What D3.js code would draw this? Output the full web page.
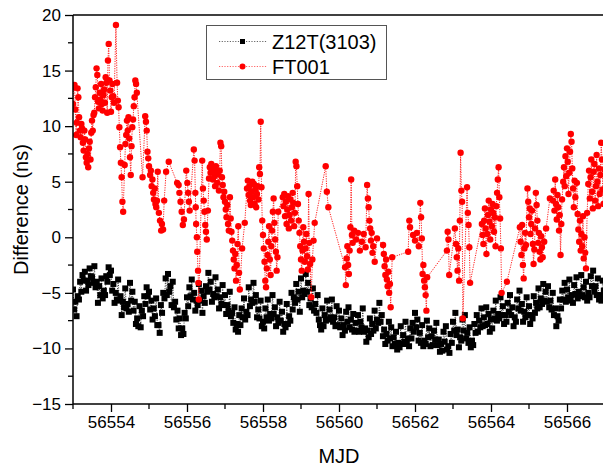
<!DOCTYPE html>
<html>
<head>
<meta charset="utf-8">
<script src="https://cdn.jsdelivr.net/npm/d3@7/dist/d3.min.js"></script>
<style>
  body { margin: 0; background: #fff; }
  text { font-family: "Liberation Sans", Arial, sans-serif; fill: #000; }
</style>
</head>
<body>
<div id="chart"></div>
<script>
// axis ticks
const xMajorTicks = [56554, 56556, 56558, 56560, 56562, 56564, 56566];
const xMinorTicks = [56553, 56555, 56557, 56559, 56561, 56563, 56565, 56567];
const yMajorTicks = [-15, -10, -5, 0, 5, 10, 15, 20];
const yMinorTicks = [-12.5, -7.5, -2.5, 2.5, 7.5, 12.5, 17.5];

const seriesNames = ["Z12T(3103)", "FT001"];

// Z12T(3103): regular sampling, 16 points per half day
const z12tStart = 56553.0;
const z12tStep = 0.03125;
const z12tValues = [
  -4.7,-6.5,-5.8,-7.1,-5.3,-5.6,-4.0,-4.9,-3.4,-3.9,-3.1,-4.8,-3.9,-4.3,-2.8,-3.5,
  -3.6,-4.1,-2.6,-4.5,-4.0,-5.9,-4.4,-5.2,-3.7,-5.5,-4.8,-5.2,-3.5,-4.0,-2.7,-3.4,
  -3.0,-4.8,-4.2,-5.9,-5.0,-5.6,-3.8,-5.7,-5.3,-7.0,-5.8,-6.3,-4.6,-6.4,-6.0,-6.7,
  -4.1,-5.7,-4.9,-6.6,-5.8,-7.8,-7.3,-8.0,-6.2,-8.1,-6.6,-7.1,-5.3,-6.0,-4.5,-5.3,
  -4.9,-6.5,-5.7,-7.4,-6.4,-7.1,-5.5,-7.9,-7.9,-8.6,-6.1,-6.8,-5.0,-5.5,-3.7,-5.2,
  -3.3,-4.9,-4.4,-6.1,-4.0,-6.3,-5.8,-7.4,-6.6,-8.2,-7.3,-8.8,-8.2,-8.7,-6.8,-7.3,
  -5.4,-6.2,-4.5,-5.3,-3.8,-5.6,-5.0,-6.6,-5.7,-6.1,-4.2,-5.7,-4.8,-6.8,-5.3,-5.9,
  -4.4,-4.9,-3.2,-4.7,-4.0,-5.8,-5.1,-5.4,-3.6,-5.3,-4.7,-6.4,-5.4,-6.0,-4.3,-6.1,
  -5.2,-6.9,-6.1,-6.6,-4.9,-7.1,-6.8,-7.7,-6.3,-8.3,-7.8,-8.5,-7.0,-7.9,-6.4,-7.2,
  -5.5,-7.4,-6.7,-7.0,-4.5,-6.2,-5.6,-5.9,-4.1,-5.8,-5.2,-7.2,-6.5,-7.3,-5.7,-8.0,
  -7.6,-8.2,-6.4,-7.2,-5.6,-7.5,-6.9,-7.3,-5.2,-6.9,-6.3,-8.0,-7.2,-7.7,-5.8,-7.5,
  -6.7,-8.5,-7.8,-8.1,-6.0,-7.8,-7.1,-7.5,-5.0,-6.5,-5.4,-5.9,-4.2,-5.6,-4.9,-6.7,
  -3.7,-5.4,-4.8,-5.1,-3.3,-4.9,-4.1,-6.1,-5.5,-6.3,-4.6,-6.6,-6.0,-6.8,-5.2,-7.4,
  -7.9,-8.3,-6.4,-8.0,-7.0,-7.5,-5.7,-7.4,-6.5,-7.2,-5.6,-7.6,-7.2,-8.0,-6.2,-7.9,
  -6.6,-8.1,-7.3,-8.8,-7.9,-8.4,-6.7,-7.6,-6.3,-8.1,-7.4,-8.3,-6.9,-8.5,-7.7,-8.4,
  -7.0,-8.5,-7.6,-8.1,-6.4,-8.5,-8.2,-9.4,-8.4,-9.0,-7.3,-8.7,-7.8,-8.4,-6.6,-8.2,
  -7.4,-7.7,-5.9,-7.6,-7.0,-8.9,-8.3,-9.6,-8.7,-9.3,-7.6,-9.1,-8.1,-9.8,-9.0,-9.6,
  -8.5,-10.1,-9.5,-9.9,-8.0,-9.6,-8.8,-9.4,-7.6,-9.6,-9.1,-9.8,-8.2,-9.1,-7.7,-8.5,
  -6.8,-8.1,-7.4,-9.3,-8.6,-9.5,-7.9,-9.8,-9.3,-9.6,-7.5,-9.0,-8.2,-9.8,-8.9,-9.7,
  -8.4,-9.2,-7.7,-9.7,-9.2,-10.3,-9.6,-10.2,-8.5,-9.4,-8.0,-10.1,-9.8,-10.4,-8.7,-9.5,
  -7.6,-8.4,-6.8,-8.8,-8.3,-9.9,-9.0,-9.3,-7.4,-8.4,-7.0,-9.1,-8.6,-9.5,-8.1,-9.9,
  -9.3,-9.7,-7.8,-8.6,-7.0,-8.5,-7.5,-8.1,-6.4,-8.0,-7.2,-7.9,-6.3,-7.8,-6.9,-8.5,
  -7.4,-8.2,-6.6,-7.3,-5.7,-7.5,-6.9,-7.3,-5.4,-7.0,-6.2,-7.8,-7.0,-7.6,-5.9,-6.7,
  -5.2,-7.0,-6.3,-8.0,-7.2,-7.6,-5.6,-6.4,-4.8,-6.6,-6.0,-7.6,-6.7,-7.2,-5.4,-7.0,
  -6.2,-7.8,-7.0,-7.3,-5.3,-6.8,-5.9,-6.4,-4.6,-6.3,-5.5,-6.0,-4.2,-5.7,-4.9,-5.8,
  -4.4,-6.3,-5.7,-6.5,-5.0,-7.0,-6.4,-8.0,-7.1,-7.5,-5.6,-6.4,-4.8,-5.6,-4.1,-5.8,
  -4.7,-5.4,-3.8,-5.7,-5.2,-5.9,-4.3,-5.1,-3.6,-5.5,-4.9,-5.3,-3.4,-5.2,-4.5,-5.4,
  -4.0,-5.7,-5.0,-5.4,-3.5,-4.4,-3.0,-4.9,-4.4,-5.2,-3.7,-5.6,-5.2,-5.7,-3.9,-4.8
];

// FT001: [MJD, difference ns], irregular with gaps
const ft001 = [
  [56553.00,12.0],[56553.02,13.5],[56553.04,13.7],[56553.06,11.5],[56553.08,9.2],[56553.10,10.3],
  [56553.12,13.4],[56553.14,12.6],[56553.16,10.8],[56553.18,9.6],[56553.20,9.0],[56553.22,10.2],
  [56553.24,9.8],[56553.26,8.5],[56553.28,7.8],[56553.30,9.6],[56553.32,8.8],[56553.34,7.2],
  [56553.36,6.7],[56553.38,7.5],[56553.40,6.3],[56553.42,8.0],[56553.44,8.6],[56553.46,7.0],
  [56553.48,9.4],[56553.50,10.5],[56553.52,9.6],[56553.54,11.0],
  [56553.56,11.2],[56553.58,12.6],[56553.60,13.5],[56553.62,15.2],[56553.64,14.6],[56553.66,12.2],
  [56553.68,11.6],[56553.70,13.0],[56553.72,12.4],[56553.74,13.8],[56553.76,12.0],[56553.78,11.4],
  [56553.80,12.8],[56553.82,13.3],[56553.84,12.1],[56553.86,14.4],[56553.88,13.9],[56553.90,11.2],
  [56553.92,15.9],[56553.94,17.4],[56553.96,14.1],[56553.98,13.2],[56554.00,11.3],[56554.02,12.6],
  [56554.04,13.8],[56554.06,12.7],[56554.08,12.1],[56554.13,19.1],[56554.16,13.9],[56554.18,12.3],
  [56554.20,11.7],[56554.22,9.9],[56554.24,8.1],[56554.26,6.7],[56554.28,5.4],[56554.30,3.2],
  [56554.32,2.3],
  [56554.36,6.5],[56554.38,8.4],[56554.40,9.2],[56554.42,10.5],[56554.44,9.6],[56554.46,10.8],
  [56554.48,8.9],[56554.50,7.2],[56554.52,5.6],[56554.54,8.2],[56554.56,9.9],[56554.58,10.6],
  [56554.60,11.8],[56554.62,12.6],[56554.64,14.1],[56554.66,13.8],[56554.68,13.0],[56554.83,5.4],
  [56554.90,10.9],[56554.92,10.4],[56554.94,9.6],[56554.96,7.7],[56554.98,7.1],
  [56555.00,6.4],[56555.03,5.6],[56555.05,6.0],[56555.07,4.6],[56555.09,5.2],[56555.11,4.0],
  [56555.13,3.4],[56555.15,4.4],[56555.17,3.0],[56555.19,2.7],[56555.21,3.3],[56555.23,5.9],
  [56555.26,2.2],[56555.29,1.5],[56555.32,0.6],[56555.34,1.2],[56555.37,0.7],[56555.40,3.3],
  [56555.45,5.9],[56555.52,6.8],[56555.74,4.9],[56555.78,4.7],[56555.80,4.0],[56555.83,3.2],
  [56555.86,2.3],[56555.89,1.1],[56555.92,1.6],[56555.98,6.0],[56556.01,4.9],[56556.03,4.0],
  [56556.05,3.2],[56556.07,2.4],
  [56556.18,7.9],[56556.20,6.9],[56556.22,4.0],[56556.23,2.7],[56556.24,1.2],[56556.26,0.0],
  [56556.27,-1.3],[56556.29,-3.0],[56556.30,-4.1],[56556.31,-5.6],
  [56556.40,6.9],[56556.42,4.4],[56556.44,3.3],[56556.46,2.3],[56556.48,1.1],[56556.50,0.5],
  [56556.52,-0.2],[56556.55,2.4],[56556.58,5.3],[56556.60,6.3],[56556.62,5.8],[56556.64,6.6],
  [56556.66,6.0],[56556.68,5.2],[56556.70,6.2],[56556.72,5.5],[56556.74,4.6],[56556.76,6.4],
  [56556.78,5.9],[56556.80,4.9],[56556.82,5.7],[56556.84,4.2],[56556.86,6.0],[56556.88,8.5],
  [56556.90,8.2],[56556.92,5.4],[56556.94,4.7],[56556.96,3.6],[56556.98,4.1],[56557.00,3.2],
  [56557.02,2.5],[56557.04,1.8],[56557.06,2.9],[56557.08,1.2],[56557.10,0.6],[56557.13,3.6],
  [56557.15,1.7],[56557.17,0.5],[56557.19,-0.3],[56557.21,-1.2],[56557.23,-2.0],[56557.25,-2.8],
  [56557.27,-1.5],[56557.29,-3.9],[56557.31,-2.5],[56557.33,-0.6],[56557.35,1.0],[56557.37,-3.2],
  [56557.39,-4.7],[56557.45,-1.0],[56557.52,1.3],
  [56557.58,4.4],[56557.60,5.1],[56557.62,3.8],[56557.64,4.6],[56557.66,3.3],[56557.68,2.9],
  [56557.70,4.1],[56557.72,5.0],[56557.74,3.6],[56557.76,4.8],[56557.78,3.0],[56557.80,4.3],
  [56557.82,2.7],[56557.84,3.9],[56557.86,4.6],[56557.88,3.4],[56557.90,6.3],[56557.92,5.7],
  [56557.94,10.4],[56557.96,4.5],[56557.98,1.5],[56558.00,0.2],[56558.02,-1.0],[56558.04,-2.2],
  [56558.06,-3.9],[56558.08,-4.5],[56558.10,-2.8],[56558.12,-1.6],[56558.14,-0.4],[56558.16,1.0],
  [56558.18,-2.0],[56558.20,-3.4],[56558.22,-0.8],[56558.24,0.6],[56558.26,2.3],[56558.28,3.5],
  [56558.30,1.3],[56558.32,-0.2],[56558.34,-1.3],[56558.36,-3.0],[56558.38,-1.8],[56558.40,2.3],
  [56558.52,3.6],[56558.54,2.8],[56558.56,3.9],[56558.58,1.9],[56558.60,3.2],[56558.62,1.2],
  [56558.64,2.5],[56558.66,3.7],[56558.68,0.8],[56558.70,2.0],[56558.72,3.4],[56558.74,1.5],
  [56558.76,2.7],[56558.78,4.0],[56558.80,3.1],[56558.82,1.0],[56558.84,2.2],[56558.86,6.8],
  [56558.88,6.4],[56558.90,4.6],[56558.92,3.0],[56558.94,1.5],[56558.96,0.4],[56558.98,-0.8],
  [56559.00,-2.0],[56559.02,-3.0],[56559.04,-1.2],[56559.06,0.9],[56559.08,-0.4],[56559.10,-2.2],
  [56559.12,-1.0],[56559.14,0.3],[56559.16,-1.7],[56559.18,-2.9],[56559.20,3.9],[56559.22,-0.5],
  [56559.24,-2.4],[56559.27,-5.4],[56559.30,-2.0],[56559.33,-0.3],[56559.36,1.3],
  [56559.65,6.4],[56559.68,4.1],[56559.72,2.7],
  [56560.16,-2.7],[56560.18,-4.3],[56560.20,-1.9],[56560.22,-0.8],[56560.24,-2.5],[56560.26,-3.3],
  [56560.28,-1.2],[56560.30,0.9],[56560.32,5.2],[56560.34,0.2],[56560.36,-0.5],[56560.40,0.6],
  [56560.45,-0.2],[56560.50,0.4],[56560.55,-1.2],[56560.60,-0.4],[56560.65,0.3],[56560.70,-0.9],
  [56560.74,4.7],[56560.76,3.5],[56560.78,2.7],[56560.80,1.5],[56560.82,0.8],[56560.84,-0.3],
  [56560.86,0.4],[56560.88,-1.4],[56560.90,-0.8],[56560.94,-2.2],[56561.00,-0.1],
  [56561.16,-0.7],[56561.18,-1.5],[56561.20,-2.6],[56561.22,-3.4],[56561.24,-2.0],[56561.26,-3.8],
  [56561.28,-4.4],[56561.30,-3.1],[56561.32,-5.0],[56561.34,-4.2],[56561.36,-6.3],[56561.40,-1.8],
  [56561.82,-1.3],[56561.85,1.5],[56561.87,0.9],[56561.95,0.2],[56562.00,-0.3],[56562.05,0.4],
  [56562.10,-0.8],[56562.14,3.1],[56562.16,1.8],[56562.18,-0.1],[56562.20,-3.3],[56562.22,-2.5],
  [56562.24,-3.9],[56562.26,-4.5],[56562.28,-5.2],[56562.30,-6.6],[56562.32,-3.6],
  [56562.84,-1.2],[56562.86,0.5],[56562.88,-0.2],[56562.90,-3.4],
  [56563.05,0.8],[56563.08,-0.6],[56563.10,-1.8],[56563.12,-3.0],[56563.14,-1.0],[56563.16,-3.9],
  [56563.18,1.5],[56563.20,7.6],[56563.22,4.2],[56563.24,3.2],[56563.26,-7.3],
  [56563.37,4.5],[56563.39,2.2],[56563.41,1.1],[56563.43,-0.9],[56563.45,-4.1],
  [56563.76,1.2],[56563.78,0.2],[56563.80,-0.6],[56563.82,1.5],[56563.84,2.6],[56563.86,0.8],
  [56563.88,-1.5],[56563.90,0.3],[56563.92,2.0],[56563.94,3.3],[56563.96,1.4],[56563.98,-0.2],
  [56564.00,2.5],[56564.02,1.0],[56564.04,3.0],[56564.06,2.2],[56564.08,0.5],[56564.10,1.8],
  [56564.12,-0.8],[56564.14,2.8],[56564.16,4.0],[56564.18,5.2],[56564.20,6.3],[56564.22,3.6],
  [56564.24,1.7],[56564.26,-1.0],[56564.28,-5.0],[56564.42,-4.0],
  [56564.76,0.9],[56564.78,-0.4],[56564.80,-1.6],[56564.82,1.1],[56564.84,-2.5],[56564.86,-3.7],
  [56564.88,-1.0],[56564.90,0.4],[56564.92,-0.7],[56564.96,4.4],[56564.98,3.2],[56565.00,1.8],
  [56565.02,2.6],[56565.04,0.3],[56565.06,1.2],[56565.08,2.4],[56565.10,-0.6],[56565.12,-2.4],
  [56565.14,-1.1],[56565.16,0.8],[56565.18,4.0],[56565.20,2.9],[56565.22,1.5],[56565.24,-0.5],
  [56565.26,0.4],[56565.28,-1.3],[56565.30,-2.0],[56565.32,0.1],[56565.34,-0.9],[56565.36,-1.8],
  [56565.40,-0.4],[56565.45,0.8],[56565.55,3.5],
  [56565.63,3.3],[56565.65,4.2],[56565.67,2.4],[56565.69,5.2],[56565.71,3.0],[56565.73,1.6],
  [56565.75,3.8],[56565.77,2.7],[56565.79,0.6],[56565.81,2.0],[56565.83,-1.6],[56565.85,1.2],
  [56565.87,3.4],[56565.90,5.0],[56565.92,6.3],[56565.94,4.6],[56565.96,7.3],[56565.98,5.5],
  [56566.00,8.0],[56566.02,6.8],[56566.04,3.9],[56566.06,5.8],[56566.08,7.7],[56566.10,9.3],
  [56566.12,8.6],[56566.14,6.2],[56566.16,4.4],[56566.18,2.7],[56566.20,5.1],[56566.22,3.6],
  [56566.26,4.9],[56566.28,2.1],[56566.30,0.7],[56566.32,-0.4],[56566.34,1.5],[56566.36,-1.2],
  [56566.38,0.3],[56566.40,-0.8],[56566.42,1.9],[56566.44,-1.9],[56566.46,0.0],[56566.48,-1.4],
  [56566.50,-2.8],[56566.53,2.2],[56566.56,4.8],[56566.58,6.0],[56566.60,3.5],[56566.62,5.4],
  [56566.64,7.0],[56566.66,4.1],[56566.68,2.6],[56566.70,5.9],[56566.72,6.6],[56566.74,3.3],
  [56566.76,4.6],[56566.78,7.4],[56566.80,5.0],[56566.82,2.8],[56566.84,6.2],[56566.86,3.9],
  [56566.88,5.6],[56566.90,8.5],[56566.92,7.0],[56566.94,4.3],[56566.96,3.0],[56566.98,6.1]
];

const z12t = z12tValues.map((v, i) => [z12tStart + i * z12tStep, v]);

const W = 603, H = 468;
const margin = { left: 73, top: 15, right: -2, bottom: 64 };
const innerW = W - margin.left - margin.right;
const innerH = H - margin.top - margin.bottom;

const svg = d3.select("#chart").append("svg")
  .attr("width", W).attr("height", H);

const g = svg.append("g").attr("transform", `translate(${margin.left},${margin.top})`);

const x = d3.scaleLinear().domain([56553, 56567]).range([0, innerW]);
const y = d3.scaleLinear().domain([-15, 20]).range([innerH, 0]);

g.append("defs").append("clipPath").attr("id", "plot-clip")
  .append("rect").attr("width", innerW).attr("height", innerH);

const plot = g.append("g").attr("clip-path", "url(#plot-clip)");

const line = d3.line().x(d => x(d[0])).y(d => y(d[1]));

// Z12T(3103) - black squares, dotted line
plot.append("path").datum(z12t)
  .attr("d", line).attr("fill", "none")
  .attr("stroke", "#000").attr("stroke-width", 0.8)
  .attr("stroke-dasharray", "1,1.5");

plot.selectAll(".sq").data(z12t).enter().append("rect")
  .attr("class", "sq")
  .attr("x", d => x(d[0]) - 3).attr("y", d => y(d[1]) - 3)
  .attr("width", 6).attr("height", 6).attr("fill", "#000");

// FT001 - red circles, dotted line
plot.append("path").datum(ft001)
  .attr("d", line).attr("fill", "none")
  .attr("stroke", "#ff2020").attr("stroke-width", 1)
  .attr("stroke-dasharray", "1.2,1.2");

plot.selectAll(".dot").data(ft001).enter().append("circle")
  .attr("class", "dot")
  .attr("cx", d => x(d[0])).attr("cy", d => y(d[1]))
  .attr("r", 3.2).attr("fill", "#ff0000");

// frame
g.append("line").attr("x1", 0).attr("x2", innerW).attr("y1", 0).attr("y2", 0)
  .attr("stroke", "#000").attr("stroke-width", 1.5);

// axes
const xAxis = g.append("g").attr("transform", `translate(0,${innerH})`)
  .call(d3.axisBottom(x).tickValues(xMajorTicks).tickFormat(d3.format("d"))
    .tickSize(8).tickPadding(4));
const yAxis = g.append("g")
  .call(d3.axisLeft(y).tickValues(yMajorTicks).tickSize(8).tickPadding(4));

[xAxis, yAxis].forEach(a => {
  a.select(".domain").attr("stroke", "#000").attr("stroke-width", 1.5);
  a.selectAll(".tick line").attr("stroke", "#000").attr("stroke-width", 1.3);
  a.selectAll(".tick text").attr("font-size", 17)
    .attr("font-family", '"Liberation Sans", Arial, sans-serif');
});
yAxis.select(".domain").attr("d", `M0,${innerH}V0`);
xAxis.select(".domain").attr("d", `M0,0H${innerW}`);

g.selectAll(".xminor").data(xMinorTicks).enter().append("line")
  .attr("x1", d => x(d)).attr("x2", d => x(d))
  .attr("y1", innerH).attr("y2", innerH + 5)
  .attr("stroke", "#000").attr("stroke-width", 1.3);

g.selectAll(".yminor").data(yMinorTicks).enter().append("line")
  .attr("y1", d => y(d)).attr("y2", d => y(d))
  .attr("x1", 0).attr("x2", -5)
  .attr("stroke", "#000").attr("stroke-width", 1.3);

// axis titles
svg.append("text").attr("x", margin.left + x(56560)).attr("y", 463)
  .attr("text-anchor", "middle").attr("font-size", 20).text("MJD");

svg.append("text")
  .attr("transform", `translate(28,${margin.top + innerH / 2}) rotate(-90)`)
  .attr("text-anchor", "middle").attr("font-size", 20).text("Difference (ns)");

// legend
const legend = svg.append("g");
legend.append("rect").attr("x", 206.5).attr("y", 25.5).attr("width", 180).attr("height", 54)
  .attr("fill", "#fff").attr("stroke", "#555").attr("stroke-width", 1);

const legendItems = [
  { name: seriesNames[0], color: "#000", shape: "square", y: 41.5 },
  { name: seriesNames[1], color: "#ff0000", shape: "circle", y: 66.5 }
];
legendItems.forEach(it => {
  legend.append("line").attr("x1", 219).attr("x2", 267)
    .attr("y1", it.y).attr("y2", it.y)
    .attr("stroke", it.color).attr("stroke-width", 1)
    .attr("stroke-opacity", 0.6).attr("stroke-dasharray", "1.2,1.5");
  if (it.shape === "square") {
    legend.append("rect").attr("x", 240).attr("y", it.y - 2.5)
      .attr("width", 5).attr("height", 5).attr("fill", it.color);
  } else {
    legend.append("circle").attr("cx", 242.5).attr("cy", it.y)
      .attr("r", 3).attr("fill", it.color);
  }
  legend.append("text").attr("x", 272).attr("y", it.y + 7)
    .attr("font-size", 20).text(it.name);
});
</script>
</body>
</html>
